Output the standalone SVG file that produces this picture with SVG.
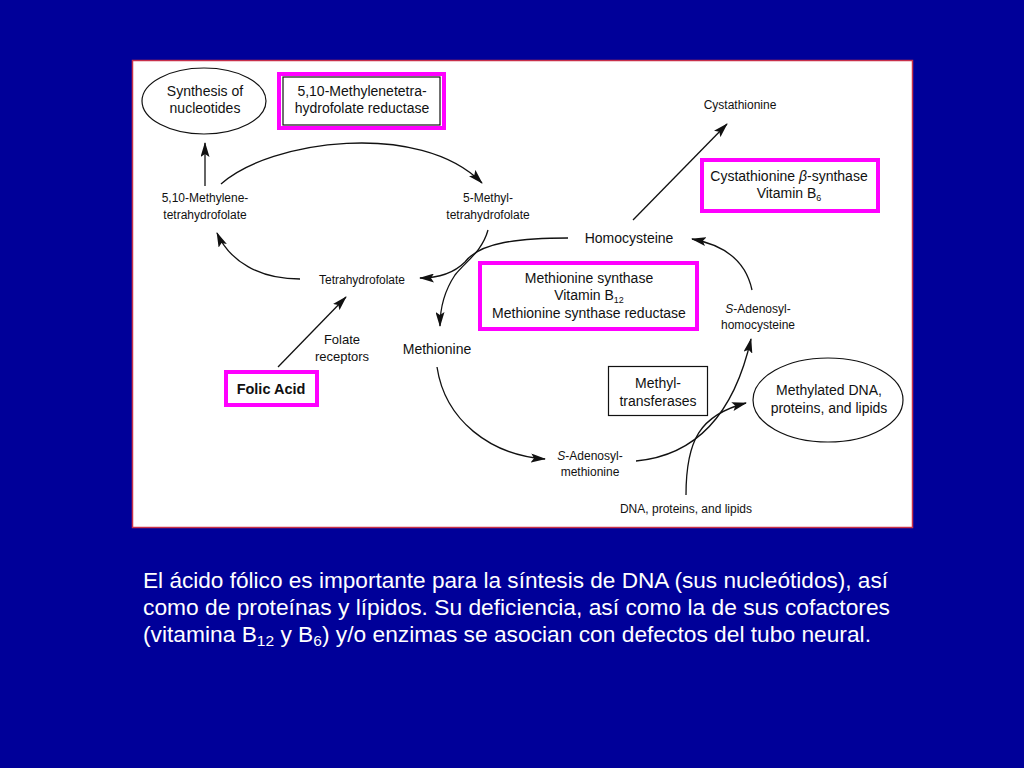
<svg xmlns="http://www.w3.org/2000/svg" width="1024" height="768" viewBox="0 0 1024 768">
<defs>
<style>
.t{font-family:"Liberation Sans",Arial,sans-serif;fill:#111;text-anchor:middle}
.s12{font-size:12px}
.s14{font-size:14px}
.mag{fill:none;stroke:#ff00ff;stroke-width:4}
.blk{fill:none;stroke:#111;stroke-width:1.2}
.c{fill:none;stroke:#111;stroke-width:1.3}
.foot{font-family:"Liberation Sans",Arial,sans-serif;font-size:22px;fill:#ffffff}
</style>
<marker id="ah" viewBox="0 0 15 9" refX="14" refY="4.5" markerWidth="15" markerHeight="9" markerUnits="userSpaceOnUse" orient="auto">
<path d="M0,0 L15,4.5 L0,9 L3,4.5 Z" fill="#111"/>
</marker>
</defs>
<rect x="0" y="0" width="1024" height="768" fill="#000099"/>
<rect x="132.5" y="60.5" width="780" height="467" fill="#ffffff" stroke="#c8304a" stroke-width="1.5"/>

<g id="connectors">
<path class="c" d="M205,186 L205,143" marker-end="url(#ah)"/>
<path class="c" d="M221,184 C270,140 420,120 482,183" marker-end="url(#ah)"/>
<path class="c" d="M633,220 L727,124" marker-end="url(#ah)"/>
<path class="c" d="M568,238 C520,238 480,242 465,262 C455,272 440,278 420,278" marker-end="url(#ah)"/>
<path class="c" d="M488,230 C482,252 465,262 455,275 C445,290 440,305 440,326" marker-end="url(#ah)"/>
<path class="c" d="M300,279 C260,279 230,262 217,233" marker-end="url(#ah)"/>
<path class="c" d="M278,367 L346,297" marker-end="url(#ah)"/>
<path class="c" d="M752,290 C746,262 725,245 692,239" marker-end="url(#ah)"/>
<path class="c" d="M437,367 C445,420 490,455 545,459" marker-end="url(#ah)"/>
<path class="c" d="M636,461 C700,455 735,410 751,339" marker-end="url(#ah)"/>
<path class="c" d="M686,495 C686,440 700,415 746,403" marker-end="url(#ah)"/>
</g>

<g id="synthesis-nucleotides">
<ellipse class="blk" cx="204" cy="101" rx="62" ry="33"/>
<text class="t s14" x="205" y="96">Synthesis of</text>
<text class="t s14" x="205" y="113">nucleotides</text>
</g>

<g id="mthfr">
<rect class="mag" x="279" y="74" width="165" height="54"/>
<rect class="blk" x="283" y="77" width="157" height="48"/>
<text class="t s14" x="362" y="96">5,10-Methylenetetra-</text>
<text class="t s14" x="362" y="113">hydrofolate reductase</text>
</g>

<g id="methylene-thf">
<text class="t s12" x="205" y="202">5,10-Methylene-</text>
<text class="t s12" x="205" y="219">tetrahydrofolate</text>
</g>

<g id="methyl-thf">
<text class="t s12" x="488" y="202">5-Methyl-</text>
<text class="t s12" x="488" y="219">tetrahydrofolate</text>
</g>

<g id="cystathionine">
<text class="t s12" x="740" y="109">Cystathionine</text>
</g>

<g id="cbs">
<rect class="mag" x="702" y="160" width="176" height="51"/>
<text class="t s14" x="789" y="181">Cystathionine <tspan font-style="italic">β</tspan>-synthase</text>
<text class="t s14" x="789" y="198">Vitamin B<tspan font-size="9" dy="3">6</tspan></text>
</g>

<g id="homocysteine">
<text class="t s14" x="629" y="243">Homocysteine</text>
</g>

<g id="thf">
<text class="t s12" x="362" y="284">Tetrahydrofolate</text>
</g>

<g id="folate-receptors">
<text class="t" style="font-size:13px" x="342" y="344">Folate</text>
<text class="t" style="font-size:13px" x="342" y="361">receptors</text>
</g>

<g id="folic-acid">
<rect class="mag" x="226" y="372" width="91" height="33"/>
<text class="t" x="271" y="394" style="font-size:14.5px;font-weight:bold">Folic Acid</text>
</g>

<g id="methionine">
<text class="t s14" x="437" y="354">Methionine</text>
</g>

<g id="ms">
<rect class="mag" x="480" y="263" width="217" height="66"/>
<text class="t s14" x="589" y="283">Methionine synthase</text>
<text class="t s14" x="589" y="300">Vitamin B<tspan font-size="9" dy="3">12</tspan></text>
<text class="t s14" x="589" y="318">Methionine synthase reductase</text>
</g>

<g id="sah">
<text class="t s12" x="758" y="313"><tspan font-style="italic">S</tspan>-Adenosyl-</text>
<text class="t s12" x="758" y="329">homocysteine</text>
</g>

<g id="methyltransferases">
<rect class="blk" x="608.5" y="366.5" width="99" height="49"/>
<text class="t s14" x="658" y="388">Methyl-</text>
<text class="t s14" x="658" y="406">transferases</text>
</g>

<g id="methylated">
<ellipse class="blk" cx="828" cy="400" rx="75" ry="42"/>
<text class="t s14" x="829" y="395">Methylated DNA,</text>
<text class="t s14" x="829" y="413">proteins, and lipids</text>
</g>

<g id="sam">
<text class="t s12" x="590" y="460"><tspan font-style="italic">S</tspan>-Adenosyl-</text>
<text class="t s12" x="590" y="476">methionine</text>
</g>

<g id="dna">
<text class="t s12" x="686" y="513">DNA, proteins, and lipids</text>
</g>

<g id="caption">
<text class="foot" x="143" y="588" textLength="745" lengthAdjust="spacingAndGlyphs">El ácido fólico es importante para la síntesis de DNA (sus nucleótidos), así</text>
<text class="foot" x="143" y="615" textLength="747" lengthAdjust="spacingAndGlyphs">como de proteínas y lípidos. Su deficiencia, así como la de sus cofactores</text>
<text class="foot" x="143" y="642" textLength="728" lengthAdjust="spacingAndGlyphs">(vitamina B<tspan font-size="15" dy="4">12</tspan><tspan dy="-4"> y B</tspan><tspan font-size="15" dy="4">6</tspan><tspan dy="-4">) y/o enzimas se asocian con defectos del tubo neural.</tspan></text>
</g>
</svg>
